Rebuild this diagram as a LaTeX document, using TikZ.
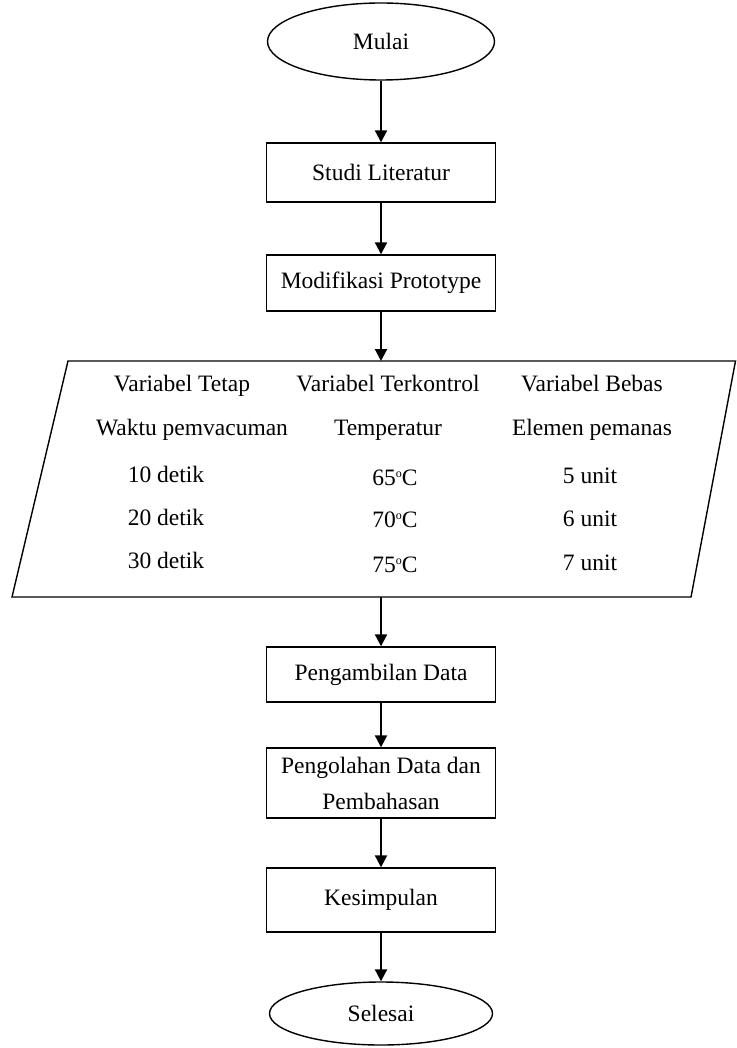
\documentclass[tikz,border=0pt]{standalone}
\usepackage{fontspec}
\setmainfont{Liberation Serif}
\usetikzlibrary{shapes.geometric,arrows.meta}
\newcommand{\dego}{\raisebox{7.5pt}{\fontsize{12}{12}\selectfont o}}
\begin{document}
\begin{tikzpicture}[x=1pt,y=-1pt,
  every node/.style={font=\fontsize{23.5}{36}\selectfont},
  term/.style={draw,ellipse,line width=1.4pt,inner sep=0pt,minimum width=227pt},
  proc/.style={draw,rectangle,line width=1.4pt,inner sep=0pt,minimum width=229pt,align=center},
  arr/.style={line width=2.2pt,-{Triangle[length=12pt,width=12pt]}},
  cell/.style={anchor=base,inner sep=0pt}]
\useasboundingbox (0,0) rectangle (736,1048);
\node[term,minimum height=77pt] (start) at (381,41.5) {Mulai};
\node[proc,minimum height=59pt] (studi) at (381,172.5) {Studi Literatur};
\node[proc,minimum height=56pt] (modif) at (381,283) {Modifikasi Prototype};
\coordinate (p1) at (68,361);
\coordinate (p2) at (735.5,361);
\coordinate (p3) at (691,597);
\coordinate (p4) at (12,597);
\draw[line width=1.4pt] (p1) -- (p2) -- (p3) -- (p4) -- cycle;
\coordinate (pin) at (381,361);
\coordinate (pout) at (381,597);
\node[proc,minimum height=55pt] (ambil) at (381,674.5) {Pengambilan Data};
\node[proc,minimum height=70pt] (olah) at (381,783) {Pengolahan Data dan\\Pembahasan};
\node[proc,minimum height=64pt] (simpul) at (381,900) {Kesimpulan};
\node[term,minimum height=63pt,minimum width=223pt] (end) at (381,1013.5) {Selesai};
% table text
\node[cell] (a1) at (182,391) {Variabel Tetap};
\node[cell] (a2) at (192,435) {Waktu pemvacuman};
\node[cell] (a3) at (166,482) {10 detik};
\node[cell] (a4) at (166,525) {20 detik};
\node[cell] (a5) at (166,568) {30 detik};
\node[cell] (b1) at (388,391) {Variabel Terkontrol};
\node[cell] (b2) at (388,435) {Temperatur};
\node[cell] (b3) at (395,485) {65\dego C};
\node[cell] (b4) at (395,527) {70\dego C};
\node[cell] (b5) at (395,572) {75\dego C};
\node[cell] (c1) at (592,391) {Variabel Bebas};
\node[cell] (c2) at (592,435) {Elemen pemanas};
\node[cell] (c3) at (590,483) {5 unit};
\node[cell] (c4) at (590,526) {6 unit};
\node[cell] (c5) at (590,570) {7 unit};
% arrows
\draw[arr] (start) -- (studi);
\draw[arr] (studi) -- (modif);
\draw[arr] (modif) -- (pin);
\draw[arr] (pout) -- (ambil);
\draw[arr] (ambil) -- (olah);
\draw[arr] (olah) -- (simpul);
\draw[arr] (simpul) -- (end);
\end{tikzpicture}
\end{document}
